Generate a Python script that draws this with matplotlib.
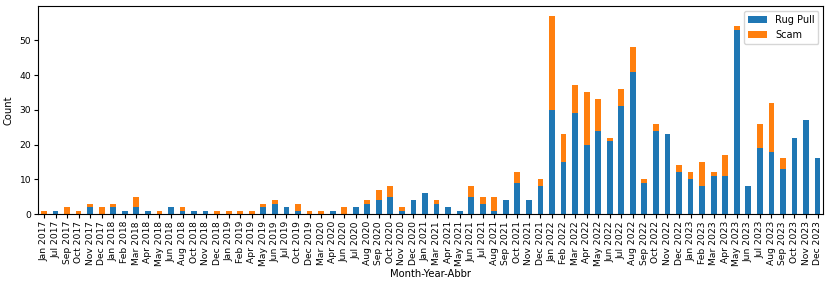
import pandas as pd
import matplotlib
matplotlib.use('Agg')
import matplotlib.pyplot as plt

# months that appear in the data (month-year abbreviations)
months = ['Jan 2017', 'Jul 2017', 'Sep 2017', 'Oct 2017', 'Nov 2017', 'Dec 2017',
          'Jan 2018', 'Feb 2018', 'Mar 2018', 'Apr 2018', 'May 2018', 'Jun 2018',
          'Aug 2018', 'Oct 2018', 'Nov 2018', 'Dec 2018',
          'Jan 2019', 'Feb 2019', 'Apr 2019', 'May 2019', 'Jun 2019', 'Jul 2019',
          'Oct 2019', 'Dec 2019',
          'Mar 2020', 'Apr 2020', 'Jun 2020', 'Jul 2020', 'Aug 2020', 'Sep 2020',
          'Oct 2020', 'Nov 2020', 'Dec 2020',
          'Jan 2021', 'Mar 2021', 'Apr 2021', 'May 2021', 'Jun 2021', 'Jul 2021',
          'Aug 2021', 'Sep 2021', 'Oct 2021', 'Nov 2021', 'Dec 2021',
          'Jan 2022', 'Feb 2022', 'Mar 2022', 'Apr 2022', 'May 2022', 'Jun 2022',
          'Jul 2022', 'Aug 2022', 'Sep 2022', 'Oct 2022', 'Nov 2022', 'Dec 2022',
          'Jan 2023', 'Feb 2023', 'Mar 2023', 'Apr 2023', 'May 2023', 'Jun 2023',
          'Jul 2023', 'Aug 2023', 'Sep 2023', 'Oct 2023', 'Nov 2023', 'Dec 2023']

rug_pull = [0, 1, 0, 0, 2, 0,
            2, 1, 2, 1, 0, 2,
            1, 1, 1, 0,
            0, 0, 0, 2, 3, 2,
            1, 0,
            0, 1, 0, 2, 3, 4,
            5, 1, 4,
            6, 3, 2, 1, 5, 3,
            1, 4, 9, 4, 8,
            30, 15, 29, 20, 24, 21,
            31, 41, 9, 24, 23, 12,
            10, 8, 11, 11, 53, 8,
            19, 18, 13, 22, 27, 16]

scam = [1, 0, 2, 1, 1, 2,
        1, 0, 3, 0, 1, 0,
        1, 0, 0, 1,
        1, 1, 1, 1, 1, 0,
        2, 1,
        1, 0, 2, 0, 1, 3,
        3, 1, 0,
        0, 1, 0, 0, 3, 2,
        4, 0, 3, 0, 2,
        27, 8, 8, 15, 9, 1,
        5, 7, 1, 2, 0, 2,
        2, 7, 1, 6, 1, 0,
        7, 14, 3, 0, 0, 0]

df = pd.DataFrame({'Rug Pull': rug_pull, 'Scam': scam}, index=months)
df.index.name = 'Month-Year-Abbr'

fig, ax = plt.subplots(figsize=(8.3, 2.87), dpi=100)
df.plot(kind='bar', stacked=True, ax=ax, color=['#1f77b4', '#ff7f0e'])

ax.set_xlabel('Month-Year-Abbr', fontsize=7.2, labelpad=2)
ax.set_ylabel('Count', fontsize=7.2)
ax.tick_params(axis='both', labelsize=6.6, length=3, pad=2)
ax.legend(loc='upper right', fontsize=7)

plt.subplots_adjust(left=0.046, right=0.992, top=0.979, bottom=0.254)
plt.savefig('out.png', dpi=100)
